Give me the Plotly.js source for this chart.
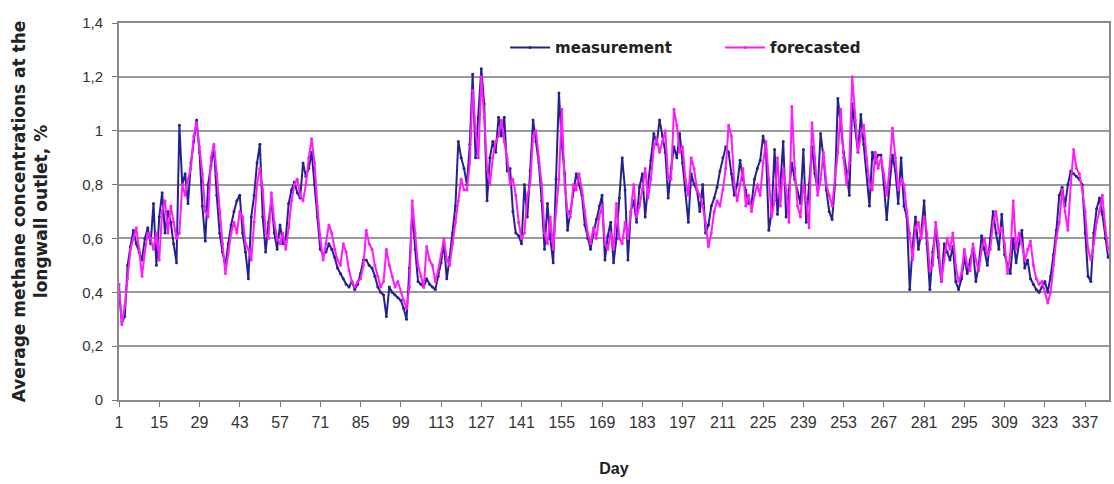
<!DOCTYPE html>
<html>
<head>
<meta charset="utf-8">
<script src="https://cdn.plot.ly/plotly-3.0.1.min.js"></script>
<style>
  html, body { margin: 0; padding: 0; background: #ffffff; }
  #chart { width: 1114px; height: 484px; }
</style>
</head>
<body>
<div id="chart"></div>
<script>
// Daily average methane concentration at the longwall outlet, %
const measurement = [
  0.40, 0.29, 0.31, 0.50, 0.57, 0.63, 0.58, 0.55, 0.52, 0.60,
  0.64, 0.58, 0.73, 0.50, 0.68, 0.77, 0.62, 0.70, 0.66, 0.58,
  0.51, 1.02, 0.80, 0.84, 0.73, 0.88, 0.96, 1.04, 0.92, 0.72,
  0.59, 0.80, 0.87, 0.94, 0.76, 0.62, 0.55, 0.50, 0.58, 0.65,
  0.70, 0.74, 0.76, 0.62, 0.55, 0.45, 0.68, 0.76, 0.88, 0.95,
  0.68, 0.55, 0.66, 0.74, 0.62, 0.56, 0.65, 0.58, 0.60, 0.73,
  0.78, 0.81, 0.77, 0.75, 0.88, 0.83, 0.86, 0.92, 0.80, 0.68,
  0.56, 0.54, 0.55, 0.58, 0.56, 0.53, 0.49, 0.47, 0.45, 0.43,
  0.42, 0.44, 0.41, 0.43, 0.47, 0.52, 0.52, 0.50, 0.49, 0.46,
  0.42, 0.40, 0.39, 0.31, 0.42, 0.40, 0.39, 0.38, 0.37, 0.34,
  0.30, 0.49, 0.70, 0.56, 0.44, 0.43, 0.42, 0.45, 0.43, 0.42,
  0.41, 0.46, 0.51, 0.58, 0.45, 0.53, 0.62, 0.72, 0.96, 0.90,
  0.86, 0.80, 0.95, 1.21, 0.90, 1.05, 1.23, 1.10, 0.74, 0.90,
  0.96, 0.92, 1.05, 0.98, 1.05, 0.85, 0.86, 0.70, 0.62, 0.61,
  0.58, 0.80, 0.68, 0.85, 1.04, 0.96, 0.88, 0.74, 0.56, 0.73,
  0.60, 0.51, 0.82, 1.14, 0.95, 0.84, 0.63, 0.70, 0.78, 0.84,
  0.80, 0.76, 0.65, 0.60, 0.56, 0.62, 0.67, 0.72, 0.76, 0.52,
  0.61, 0.66, 0.51, 0.60, 0.75, 0.90, 0.78, 0.52, 0.70, 0.74,
  0.66, 0.79, 0.84, 0.68, 0.80, 0.89, 0.99, 0.95, 1.04, 0.98,
  0.92, 0.75, 0.86, 0.94, 0.90, 0.99, 0.88, 0.78, 0.66, 0.84,
  0.80, 0.78, 0.70, 0.80, 0.62, 0.65, 0.72, 0.75, 0.79, 0.85,
  0.90, 0.94, 0.92, 0.84, 0.76, 0.80, 0.89, 0.82, 0.78, 0.73,
  0.73, 0.82, 0.86, 0.89, 0.98, 0.93, 0.63, 0.70, 0.93, 0.69,
  0.80, 0.96, 0.68, 0.78, 0.88, 0.82, 0.77, 0.73, 0.93, 0.66,
  0.80, 0.94, 0.84, 0.78, 0.99, 0.90, 0.78, 0.70, 0.67, 0.80,
  1.12, 1.02, 0.92, 0.85, 0.76, 1.10, 1.02, 0.92, 1.06, 0.95,
  0.85, 0.72, 0.92, 0.88, 0.91, 0.91, 0.80, 0.67, 0.80, 0.91,
  0.85, 0.73, 0.90, 0.72, 0.68, 0.41, 0.57, 0.68, 0.56, 0.62,
  0.74, 0.58, 0.41, 0.55, 0.63, 0.53, 0.44, 0.58, 0.55, 0.52,
  0.57, 0.44, 0.41, 0.45, 0.53, 0.47, 0.52, 0.56, 0.44, 0.50,
  0.61, 0.56, 0.50, 0.60, 0.70, 0.62, 0.56, 0.69, 0.54, 0.50,
  0.47, 0.60, 0.51, 0.58, 0.63, 0.49, 0.52, 0.45, 0.43, 0.41,
  0.40, 0.42, 0.44, 0.40, 0.46, 0.54, 0.63, 0.76, 0.79, 0.72,
  0.80, 0.85, 0.84, 0.83, 0.82, 0.80, 0.62, 0.46, 0.44, 0.62,
  0.71, 0.75, 0.69, 0.60, 0.53
];

const forecasted = [
  0.43, 0.28, 0.35, 0.45, 0.56, 0.60, 0.64, 0.56, 0.46, 0.55,
  0.62, 0.60, 0.56, 0.62, 0.52, 0.70, 0.74, 0.62, 0.72, 0.66,
  0.60, 0.62, 0.80, 0.76, 0.82, 0.86, 0.98, 1.03, 0.94, 0.84,
  0.70, 0.68, 0.90, 0.95, 0.84, 0.70, 0.58, 0.47, 0.55, 0.62,
  0.66, 0.62, 0.70, 0.68, 0.58, 0.56, 0.52, 0.66, 0.80, 0.86,
  0.78, 0.62, 0.60, 0.77, 0.66, 0.60, 0.58, 0.62, 0.56, 0.64,
  0.74, 0.80, 0.82, 0.76, 0.74, 0.80, 0.90, 0.97, 0.88, 0.72,
  0.60, 0.52, 0.58, 0.65, 0.62, 0.56, 0.52, 0.50, 0.58, 0.55,
  0.48, 0.44, 0.42, 0.44, 0.45, 0.50, 0.63, 0.58, 0.56, 0.50,
  0.46, 0.42, 0.44, 0.56, 0.50, 0.46, 0.42, 0.44, 0.40, 0.37,
  0.34, 0.42, 0.74, 0.62, 0.50, 0.46, 0.42, 0.57, 0.52, 0.50,
  0.44, 0.48, 0.54, 0.60, 0.52, 0.50, 0.58, 0.66, 0.74, 0.82,
  0.78, 0.78, 0.88, 1.15, 1.00, 0.90, 1.20, 1.05, 0.86, 0.80,
  0.90, 0.96, 0.98, 1.04, 0.96, 0.90, 0.80, 0.82, 0.76, 0.66,
  0.60, 0.62, 0.76, 0.80, 0.98, 1.00, 0.90, 0.80, 0.62, 0.58,
  0.68, 0.56, 0.70, 0.82, 1.08, 0.80, 0.70, 0.68, 0.80, 0.78,
  0.84, 0.78, 0.70, 0.62, 0.58, 0.64, 0.60, 0.68, 0.72, 0.58,
  0.56, 0.62, 0.56, 0.73, 0.60, 0.58, 0.66, 0.60, 0.70, 0.80,
  0.68, 0.72, 0.78, 0.86, 0.75, 0.82, 0.94, 0.97, 0.92, 0.96,
  1.00, 0.82, 0.82, 1.08, 1.02, 0.92, 0.94, 0.82, 0.76, 0.90,
  0.86, 0.78, 0.76, 0.72, 0.66, 0.57, 0.62, 0.70, 0.74, 0.72,
  0.78, 0.86, 1.02, 0.98, 0.80, 0.74, 0.80, 0.86, 0.72, 0.76,
  0.70, 0.76, 0.80, 0.76, 0.88, 0.96, 0.82, 0.68, 0.74, 0.90,
  0.72, 0.86, 0.78, 0.66, 1.09, 0.86, 0.72, 0.68, 0.80, 0.74,
  0.64, 1.03, 0.90, 0.76, 0.82, 0.92, 0.80, 0.76, 0.72, 0.82,
  0.92, 1.08, 0.90, 0.80, 0.88, 1.20, 1.04, 0.92, 0.98, 1.02,
  0.90, 0.80, 0.78, 0.92, 0.86, 0.90, 0.84, 0.76, 0.86, 1.01,
  0.90, 0.78, 0.82, 0.80, 0.70, 0.62, 0.52, 0.64, 0.66, 0.60,
  0.68, 0.62, 0.48, 0.50, 0.66, 0.58, 0.44, 0.52, 0.60, 0.56,
  0.62, 0.50, 0.44, 0.47, 0.56, 0.50, 0.48, 0.58, 0.52, 0.48,
  0.56, 0.60, 0.54, 0.56, 0.66, 0.70, 0.62, 0.64, 0.58, 0.47,
  0.54, 0.74, 0.56, 0.62, 0.58, 0.52, 0.56, 0.59, 0.50, 0.45,
  0.43, 0.44, 0.40, 0.36, 0.40, 0.50, 0.60, 0.66, 0.78, 0.70,
  0.63, 0.80, 0.93, 0.86, 0.84, 0.78, 0.70, 0.56, 0.52, 0.58,
  0.66, 0.70, 0.76, 0.64, 0.56
];

// Day numbers and the labelled days on the horizontal axis
const days = measurement.map((_, i) => i + 1);
const dayTicks = [1, 15, 29, 43, 57, 71, 85, 99, 113, 127, 141, 155, 169, 183,
                  197, 211, 225, 239, 253, 267, 281, 295, 309, 323, 337];
const yTicks = [0, 0.2, 0.4, 0.6, 0.8, 1, 1.2, 1.4];

const font = 'Liberation Sans, Arial, sans-serif';
const boldFont = 'DejaVu Sans, Liberation Sans, sans-serif';

const traces = [
  {
    x: days, y: measurement, name: 'measurement',
    type: 'scatter', mode: 'lines+markers',
    line: { color: '#23238f', width: 2 },
    marker: { color: '#23238f', size: 3 }
  },
  {
    x: days, y: forecasted, name: 'forecasted',
    type: 'scatter', mode: 'lines+markers',
    line: { color: '#ff1aff', width: 2 },
    marker: { color: '#ff1aff', size: 3 }
  }
];

const layout = {
  width: 1114, height: 484,
  margin: { l: 119, r: 5, t: 23, b: 84 },
  paper_bgcolor: '#ffffff', plot_bgcolor: '#ffffff',
  separators: ',.',
  font: { family: font, size: 14, color: '#333333' },
  showlegend: true,
  legend: {
    orientation: 'h', x: 0.39, y: 0.978, xanchor: 'left', yanchor: 'top',
    bgcolor: 'rgba(0,0,0,0)',
    font: { family: boldFont, size: 15, color: '#222222', weight: 'bold' },
    entrywidth: 160, entrywidthmode: 'pixels',
    itemwidth: 40
  },
  xaxis: {
    range: [1, 345.3],
    tickmode: 'array', tickvals: dayTicks,
    ticks: 'outside', ticklen: 5, tickcolor: '#777777',
    ticklabelstandoff: 2,
    showgrid: false, zeroline: false,
    showline: true, linecolor: '#8a8a8a', linewidth: 2, mirror: true,
    tickfont: { family: font, size: 16, color: '#333333' },
    title: { text: 'Day', font: { family: font, size: 16, color: '#222222', weight: 'bold' }, standoff: 33 }
  },
  yaxis: {
    range: [0, 1.4],
    tickmode: 'array', tickvals: yTicks,
    ticks: 'outside', ticklen: 5, tickcolor: '#777777',
    ticklabelstandoff: 6,
    showgrid: true, gridcolor: '#999999', gridwidth: 2,
    zeroline: false,
    showline: true, linecolor: '#8a8a8a', linewidth: 2, mirror: true,
    tickfont: { family: font, size: 15, color: '#333333' },
    title: {
      text: 'Average methane concentrations at the<br>longwall outlet, %',
      font: { family: boldFont, size: 17, color: '#222222', weight: 'bold' },
      standoff: 30
    }
  }
};

Plotly.newPlot('chart', traces, layout, { displayModeBar: false, staticPlot: true });
</script>
</body>
</html>
